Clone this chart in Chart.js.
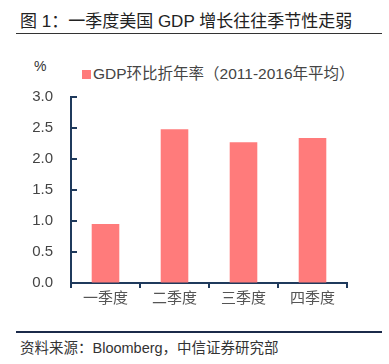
<!DOCTYPE html>
<html>
<head>
<meta charset="utf-8">
<script src="https://cdn.jsdelivr.net/npm/chart.js@4"></script>
<style>
  html, body { margin:0; padding:0; background:#fff; }
  body { width:389px; height:364px; position:relative; overflow:hidden;
         font-family: "Liberation Sans", "Noto Sans CJK SC", sans-serif; }
  .abs { position:absolute; white-space:nowrap; }
  #title { left:20px; top:11px; font-size:17px; color:#222; line-height:22px; }
  #titleLine { left:16px; top:33px; width:366px; height:1px; background:#333; }
  #unit { left:34px; top:57px; font-size:14px; color:#333; line-height:18px; }
  #legend { left:82px; top:64px; font-size:15.5px; color:#444; line-height:20px; }
  #legend .sw { display:inline-block; width:9px; height:9px; background:#FF7B7B; margin-right:2px; vertical-align:0px; }
  #footLine { left:16px; top:331px; width:366px; height:2px; background:#1B2A4A; }
  #foot { left:20px; top:338px; font-size:14.5px; color:#333; line-height:20px; }
  #wrap { position:absolute; left:0; top:70px; width:389px; height:243px; }
</style>
</head>
<body>
<div id="title" class="abs">图 1：一季度美国 GDP 增长往往季节性走弱</div>
<div id="titleLine" class="abs"></div>
<div id="unit" class="abs">%</div>
<div id="legend" class="abs"><span class="sw"></span>GDP环比折年率（2011-2016年平均）</div>
<div id="wrap"><canvas id="c"></canvas></div>
<div id="footLine" class="abs"></div>
<div id="foot" class="abs">资料来源：Bloomberg，中信证券研究部</div>
<script>
const categories = ["一季度", "二季度", "三季度", "四季度"];
const gdpAvg = [0.95, 2.48, 2.27, 2.34];
const yTicks = [0.0, 0.5, 1.0, 1.5, 2.0, 2.5, 3.0];

const axisColor = "#1F3A5C";
const fontFamily = '"Liberation Sans", "Noto Sans CJK SC", sans-serif';

const inwardTicks = {
  id: "inwardTicks",
  afterDraw(chart) {
    const y = chart.scales.y;
    const ctx = chart.ctx;
    ctx.save();
    ctx.strokeStyle = axisColor;
    ctx.lineWidth = 2;
    y.ticks.forEach(t => {
      const py = Math.round(y.getPixelForValue(t.value));
      ctx.beginPath();
      ctx.moveTo(y.right, py);
      ctx.lineTo(y.right + 6, py);
      ctx.stroke();
    });
    ctx.restore();
  }
};

new Chart(document.getElementById("c"), {
  type: "bar",
  data: {
    labels: categories,
    datasets: [{
      label: "GDP环比折年率（2011-2016年平均）",
      data: gdpAvg,
      backgroundColor: "#FF7B7B",
      borderWidth: 0,
      categoryPercentage: 0.8,
      barPercentage: 0.5
    }]
  },
  options: {
    responsive: true,
    maintainAspectRatio: false,
    animation: false,
    layout: { padding: { top: 7, right: 42, left: 0, bottom: 0 } },
    plugins: { legend: { display: false }, tooltip: { enabled: false } },
    scales: {
      x: {
        offset: true,
        grid: { offset: true, drawOnChartArea: false, drawTicks: true, tickLength: 5, color: axisColor, lineWidth: 2 },
        border: { display: true, color: axisColor, width: 2 },
        ticks: { color: "#555", font: { size: 15, family: fontFamily }, padding: 2 },
        afterFit(s) { s.height = 30; }
      },
      y: {
        min: 0, max: 3,
        afterBuildTicks(s) { s.ticks = yTicks.map(v => ({ value: v })); },
        grid: { display: true, drawOnChartArea: false, drawTicks: false },
        border: { display: true, color: axisColor, width: 2 },
        ticks: { color: "#444", font: { size: 15, family: fontFamily }, padding: 18,
                 callback: v => Number(v).toFixed(1) },
        afterFit(s) { s.width = 71; }
      }
    }
  },
  plugins: [inwardTicks]
});
</script>
</body>
</html>
